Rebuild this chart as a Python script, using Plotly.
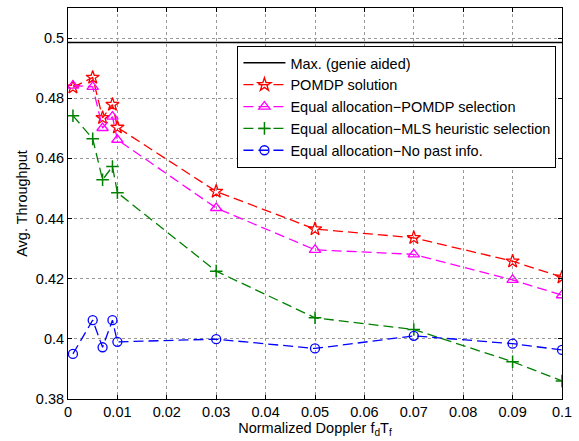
import plotly.graph_objects as go

x_vals = [0.001, 0.005, 0.007, 0.009, 0.01, 0.03, 0.05, 0.07, 0.09, 0.1]
max_genie = 0.4985
pomdp = [0.4836, 0.4869, 0.4735, 0.4779, 0.4703, 0.4490, 0.4365, 0.4336, 0.4258, 0.4205]
eq_pomdp = [0.4842, 0.4838, 0.4701, 0.4739, 0.4662, 0.4435, 0.4296, 0.4281, 0.4196, 0.4145]
eq_mls = [0.4742, 0.4665, 0.4529, 0.4573, 0.4486, 0.4225, 0.4070, 0.4031, 0.3924, 0.3860]
eq_nopast = [0.3950, 0.4062, 0.3972, 0.4062, 0.3990, 0.3999, 0.3968, 0.4010, 0.3984, 0.3963]

names = ["Max. (genie aided)", "POMDP solution", "Equal allocation\u2212POMDP selection",
         "Equal allocation\u2212MLS heuristic selection", "Equal allocation\u2212No past info."]

fig = go.Figure()
fig.add_trace(go.Scatter(x=[0, 0.1], y=[max_genie, max_genie], mode="lines",
                         line=dict(color="black", width=1.5), name=names[0]))
dash = "10px,5px"
fig.add_trace(go.Scatter(x=x_vals, y=pomdp, mode="lines+markers", name=names[1],
                         line=dict(color="red", width=1.3, dash=dash),
                         marker=dict(symbol="star-open", size=10, color="red", line=dict(width=1.3))))
fig.add_trace(go.Scatter(x=x_vals, y=eq_pomdp, mode="lines+markers", name=names[2],
                         line=dict(color="magenta", width=1.3, dash=dash),
                         marker=dict(symbol="triangle-up-open", size=10, color="magenta", line=dict(width=1.3))))
fig.add_trace(go.Scatter(x=x_vals, y=eq_mls, mode="lines+markers", name=names[3],
                         line=dict(color="green", width=1.3, dash=dash),
                         marker=dict(symbol="cross-thin-open", size=9, color="green", line=dict(width=1.5, color="green"))))
fig.add_trace(go.Scatter(x=x_vals, y=eq_nopast, mode="lines+markers", name=names[4],
                         line=dict(color="blue", width=1.3, dash=dash),
                         marker=dict(symbol="circle-open", size=9, color="blue", line=dict(width=1.3))))

FS = 14.5
axis_common = dict(showline=True, linecolor="black", linewidth=1, mirror="ticks", ticks="inside",
                   ticklen=4, tickcolor="black", showgrid=True, gridcolor="#999999", griddash="dot",
                   gridwidth=1, zeroline=False, tickfont=dict(size=FS, color="black"))
fig.update_layout(
    width=579, height=441,
    margin=dict(l=68, r=12, t=7, b=42),
    paper_bgcolor="white", plot_bgcolor="white",
    font=dict(family="Liberation Sans, Arial, sans-serif", size=FS, color="black"),
    xaxis=dict(range=[0, 0.1], dtick=0.01, tick0=0,
               title=dict(text="Normalized Doppler f<sub>d</sub>T<sub>f</sub>", standoff=0, font=dict(size=FS)),
               **axis_common),
    yaxis=dict(range=[0.38, 0.51], dtick=0.02, tick0=0.38,
               title=dict(text="Avg. Throughput", standoff=4, font=dict(size=FS)),
               **axis_common),
    legend=dict(x=0.343, y=0.903, xanchor="left", yanchor="top", bgcolor="white",
                bordercolor="black", borderwidth=1, font=dict(size=FS), itemwidth=42,
                tracegroupgap=0),
    showlegend=True,
)
fig.write_html("out.html", config={"displayModeBar": False},
               post_script="document.body.style.margin='0';")
